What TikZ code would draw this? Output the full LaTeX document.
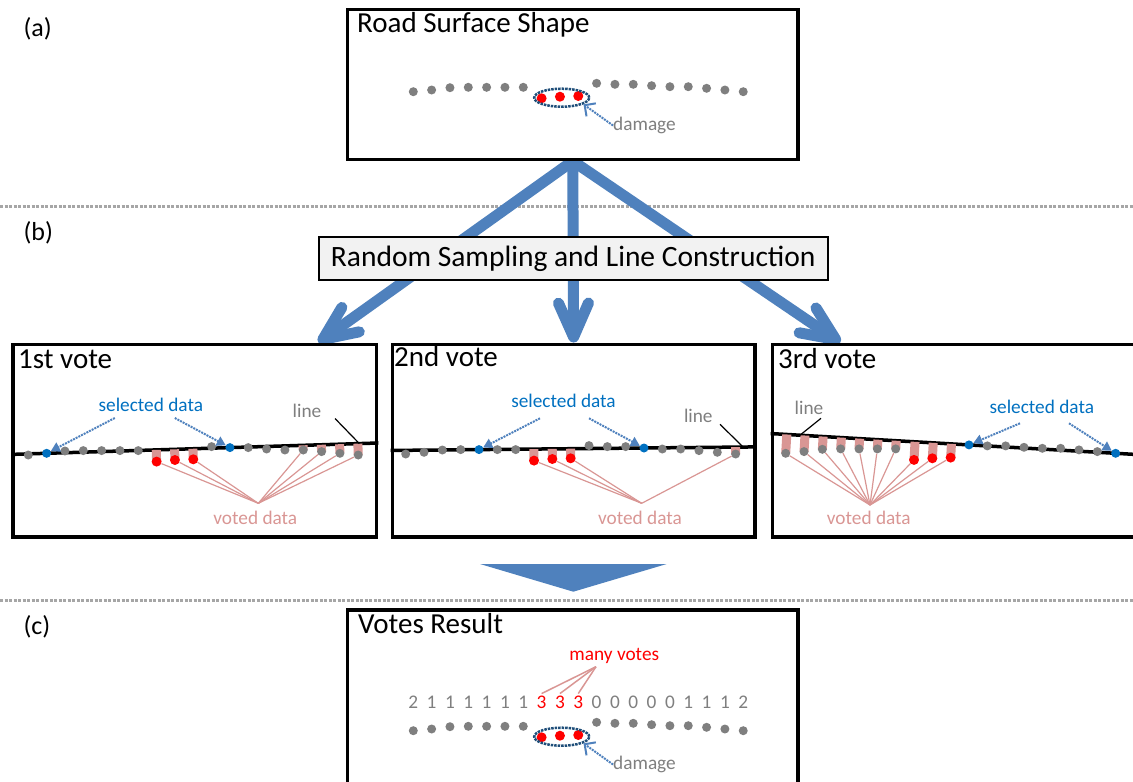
\documentclass[tikz,border=0pt]{standalone}
\usepackage{fontspec}
\setmainfont{Carlito}
\usetikzlibrary{arrows.meta,calc,shapes.geometric}
\definecolor{ptgray}{HTML}{7F7F7F}
\definecolor{txtgray}{HTML}{7F7F7F}
\definecolor{dmgred}{HTML}{FF0000}
\definecolor{selblue}{HTML}{0070C0}
\definecolor{flowblue}{HTML}{4F81BD}
\definecolor{ringblue}{HTML}{1F4E79}
\definecolor{votepink}{HTML}{D99694}
\definecolor{boxgray}{HTML}{F2F2F2}
\definecolor{sepgray}{HTML}{A6A6A6}
\pgfdeclarelayer{background}
\pgfsetlayers{background,main}
% one row of road points: #1 name, #2 #3 shift, #4 #5 selected points
\newcommand\roadrow[5]{%
  \foreach \py [count=\ri from 0] in {91.7,90,87.7,87.3,87.3,87.3,87.3,98.3,96.7,96,83.3,84.3,84.3,85.7,86.7,86.7,88.3,90,91.7} {%
    \def\pc{ptgray}\def\pd{9pt}%
    \ifnum\ri>6 \ifnum\ri<10 \def\pc{dmgred}\def\pd{10pt}\fi\fi
    \ifnum\ri=#4 \def\pc{selblue}\fi
    \ifnum\ri=#5 \def\pc{selblue}\fi
    \node[roadpt,fill=\pc,minimum size=\pd] (#1\ri) at (413.3+18.33*\ri+#2,\py+#3) {};
  }%
}
% damage ring with its label
\newcommand\dmgmark[2]{%
  \node[ring] (ring#1) at (561.7,97.7+#2) {};
  \node[lbl,text=txtgray,anchor=west] (dmg#1) at (613,125.5+#2) {damage};
  \draw[dmgarrow] (dmg#1.west) -- (ring#1.-17);
}

\begin{document}
\begin{tikzpicture}[x=1pt,y=-1pt,
    roadpt/.style={circle,inner sep=0pt},
    box/.style={draw,line width=3.5pt,inner sep=0pt},
    panel/.style={box,minimum height=192.7pt},
    ttl/.style={anchor=base west,inner sep=0pt,font=\fontsize{29}{35}\selectfont},
    tag/.style={anchor=base west,inner sep=0pt,font=\fontsize{26}{32}\selectfont},
    lbl/.style={inner sep=0pt,font=\fontsize{19.3}{23}\selectfont},
    ring/.style={ellipse,draw=ringblue,line width=2.5pt,densely dotted,minimum width=55pt,minimum height=18pt,inner sep=0pt},
    dmgarrow/.style={flowblue,line width=2pt,densely dotted,-{Straight Barb[length=8pt,width=16pt]}},
    selarrow/.style={flowblue,line width=2pt,densely dotted,-{Triangle[length=9pt,width=10pt]}},
    flow/.style={flowblue,line width=11pt,-{Straight Barb[length=34pt,width=30pt,round]}},
    sep/.style={sepgray,line width=3pt,dash pattern=on 3pt off 1.5pt},
    roadline/.style={line width=3.5pt},
    leader/.style={line width=1.2pt},
    votebar/.style={votepink,line width=9pt},
    voteline/.style={votepink,line width=1.2pt}]
\useasboundingbox (0,0) rectangle (1133,782);
%% section tags
\node[tag] (ta) at (23.3,36) {(a)};
\node[tag] (tb) at (23.3,240.5) {(b)};
\node[tag] (tc) at (23.3,634) {(c)};
%% boxes
\node[box,fill=white,minimum width=450.5,minimum height=150] (road) at (572.75,84.3) {};
\node[ttl] (t0) at (357,32.7) {Road Surface Shape};
\node[panel,minimum width=363.7] (v1) at (194.85,440.65) {};
\node[panel,minimum width=362.7] (v2) at (573.65,440.65) {};
\node[panel,minimum width=367.7] (v3) at (956.15,440.65) {};
\node[ttl] (t1) at (18,368.3) {1st vote};
\node[ttl] (t2) at (394,366.7) {2nd vote};
\node[ttl] (t3) at (778,368.3) {3rd vote};
\node[box,minimum width=450.3,minimum height=190] (res) at (572.85,705) {};
\node[ttl] (t4) at (358,633.3) {Votes Result};
\begin{pgfonlayer}{background}
\draw[sep] (0,206) -- (1133,206);
\draw[sep] (0,600) -- (1133,600);
\draw[flow] (road.south) -- ($(v1.north east)+(-60,0)$);
\draw[flow] (road.south) -- (v2.north);
\draw[flow] (road.south) -- ($(v3.north west)+(69.7,0)$);
\end{pgfonlayer}
\node[draw,line width=2pt,fill=boxgray,inner sep=0pt,minimum width=509.5,minimum height=43,font=\fontsize{29.5}{35}\selectfont] (rs) at (573.25,258.5) {Random Sampling and Line Construction};
\fill[flowblue] (480,564) -- (666.7,564) -- (573.3,591.7) -- cycle;
%% road points
\roadrow{a}{0}{0}{-1}{-1}
\roadrow{p1-}{-385}{363.3}{1}{11}
\roadrow{p2-}{-7.6}{362.3}{4}{13}
\roadrow{p3-}{372.4}{361.6}{10}{18}
\roadrow{c}{0}{639}{-1}{-1}
\dmgmark{a}{0}
\dmgmark{c}{639}
%% fitted lines and vote bars
\begin{pgfonlayer}{background}
\begin{scope}
\clip (v1.south west) rectangle (v1.north east);
\draw[roadline] ($(p1-1)!-5!(p1-11)$) -- ($(p1-11)!-5!(p1-1)$);
\end{scope}
\begin{scope}
\clip (v2.south west) rectangle (v2.north east);
\draw[roadline] ($(p2-4)!-5!(p2-13)$) -- ($(p2-13)!-5!(p2-4)$);
\end{scope}
\begin{scope}
\clip (v3.south west) rectangle (v3.north east);
\draw[roadline] ($(p3-10)!-5!(p3-18)$) -- ($(p3-18)!-5!(p3-10)$);
\end{scope}
\foreach \ri in {7,8,9,15,16,17,18}
  \draw[votebar] (p1-\ri.center) -- ($(p1-1)!(p1-\ri)!(p1-11)$);
\foreach \ri in {7,8,9,18}
  \draw[votebar] (p2-\ri.center) -- ($(p2-4)!(p2-\ri)!(p2-13)$);
\foreach \ri in {0,...,9}
  \draw[votebar] (p3-\ri.center) -- ($(p3-10)!(p3-\ri)!(p3-18)$);
\end{pgfonlayer}
%% 1st vote
\node[lbl,text=selblue] (sel1) at (150.8,405) {selected data};
\draw[selarrow] ($(sel1)+(-36,13)$) -- (p1-1);
\draw[selarrow] ($(sel1)+(24,13)$) -- (p1-11);
\node[lbl,text=txtgray] (ln1) at (307,410.5) {line};
\coordinate (le1) at ($(p1-1)!1.706!(p1-11)$);
\draw[leader] ($(ln1)+(28,8)$) -- (le1);
\node[lbl,text=votepink] (vd1) at (255.3,518) {voted data};
\coordinate (vp1) at (258.3,503.3);
\foreach \ri in {7,8,9,15,16,17,18}
  \draw[voteline] (vp1) -- (p1-\ri);
%% 2nd vote
\node[lbl,text=selblue] (sel2) at (563.5,400.5) {selected data};
\draw[selarrow] ($(sel2)+(-23.5,17.8)$) -- (p2-4);
\draw[selarrow] ($(sel2)+(25.5,17.8)$) -- (p2-13);
\node[lbl,text=txtgray] (ln2) at (698.3,416) {line};
\coordinate (le2) at ($(p2-4)!1.601!(p2-13)$);
\draw[leader] ($(ln2)+(21.7,8.3)$) -- (le2);
\node[lbl,text=votepink] (vd2) at (640,518) {voted data};
\coordinate (vp2) at (641.7,503.3);
\foreach \ri in {7,8,9,18}
  \draw[voteline] (vp2) -- (p2-\ri);
%% 3rd vote
\node[lbl,text=selblue] (sel3) at (1041.8,406.7) {selected data};
\draw[selarrow] ($(sel3)+(-21.8,16.6)$) -- (p3-10);
\draw[selarrow] ($(sel3)+(27.2,16.6)$) -- (p3-18);
\node[lbl,text=txtgray] (ln3) at (809,408.3) {line};
\coordinate (le3) at ($(p3-10)!-1.153!(p3-18)$);
\draw[leader] ($(ln3)+(12,10)$) -- (le3);
\node[lbl,text=votepink] (vd3) at (868.8,518) {voted data};
\coordinate (vp3) at (870,505);
\foreach \ri in {0,...,9}
  \draw[voteline] (vp3) -- (p3-\ri);
%% votes result
\foreach \nv [count=\ri from 0] in {2,1,1,1,1,1,1,3,3,3,0,0,0,0,0,1,1,1,2} {
  \ifnum\nv=3 \def\nc{dmgred}\else\def\nc{txtgray}\fi
  \node[lbl,inner sep=2pt,text=\nc,anchor=base] (n\ri) at (413.3+18.33*\ri,708.3) {\nv};
}
\node[lbl,text=dmgred] (many) at (614.3,655.5) {many votes};
\coordinate (mv) at (596,666.7);
\foreach \ri in {7,8,9}
  \draw[voteline,line width=1.5pt] (mv) -- (n\ri.north);
\end{tikzpicture}
\end{document}
